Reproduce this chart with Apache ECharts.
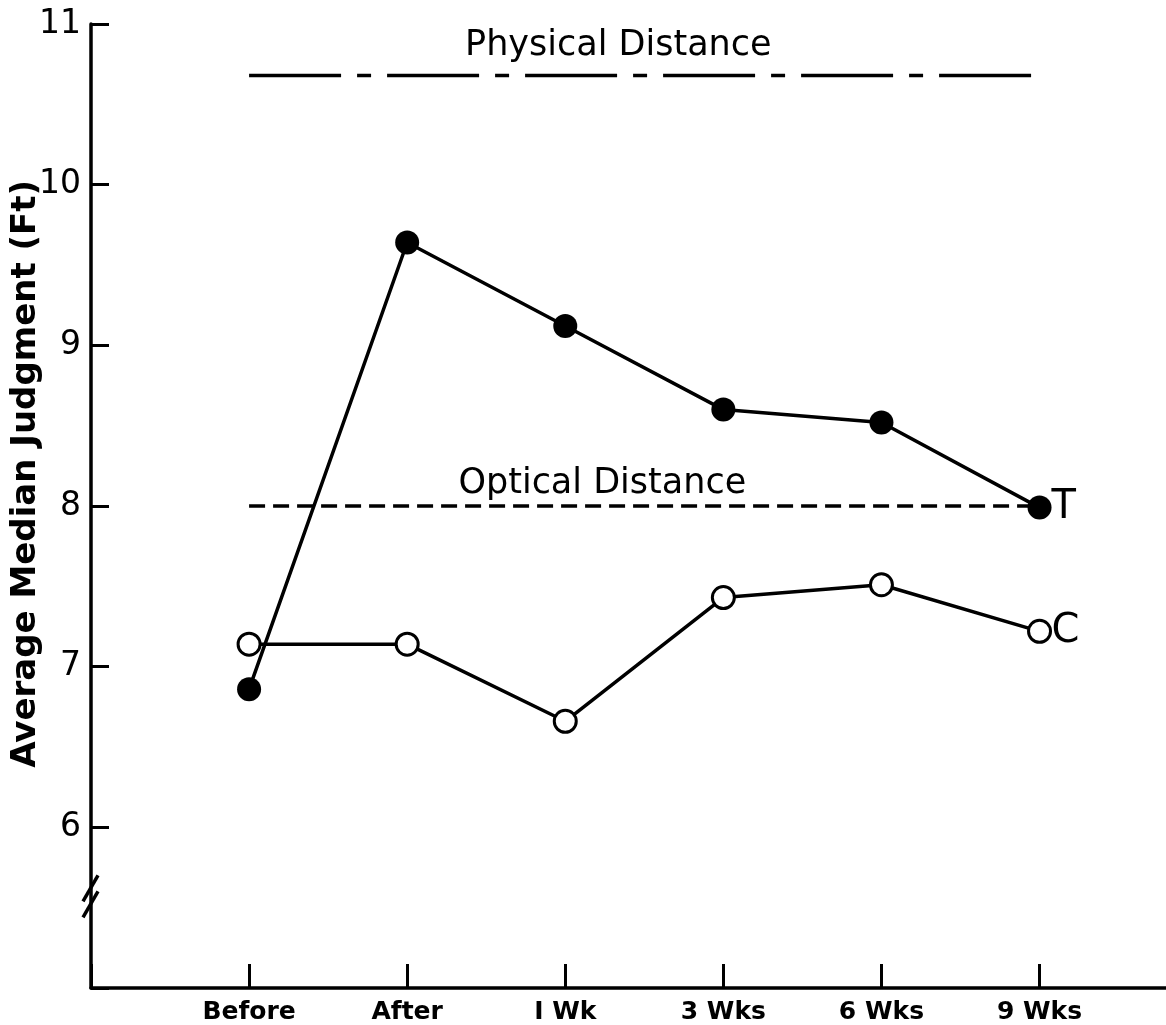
<!DOCTYPE html>
<html>
<head>
<meta charset="utf-8">
<script src="https://cdn.jsdelivr.net/npm/echarts@6/dist/echarts.min.js"></script>
<style>
html,body{margin:0;padding:0;background:#fff;}
#chart{width:1166px;height:1025px;}
</style>
</head>
<body>
<div id="chart"></div>
<script>
var categories = ['Before', 'After', 'I Wk', '3 Wks', '6 Wks', '9 Wks'];
var seriesT = [6.86, 9.64, 9.12, 8.60, 8.52, 7.99];
var seriesC = [7.14, 7.14, 6.66, 7.43, 7.51, 7.22];
var physicalDistance = 10.68;
var opticalDistance = 8.0;
var yTicks = [6, 7, 8, 9, 10, 11];
var yAxisTitle = 'Average Median Judgment (Ft)';

var FONT = 'DejaVu Sans';
function pairs(vals) { return vals.map(function (v, i) { return [i, v]; }); }
function flat(v) { return [[0, v], [categories.length - 1, v]]; }

var chart = echarts.init(document.getElementById('chart'), null, {renderer: 'canvas'});
var option = {
  backgroundColor: '#fff',
  animation: false,
  grid: {left: 91, right: 0, top: 24, bottom: 37, containLabel: false, outerBoundsMode: 'none'},
  xAxis: {
    type: 'value', min: -1, max: 5.8, interval: 1,
    axisLine: {show: true, onZero: false, lineStyle: {color: '#000', width: 3.5}},
    axisTick: {show: true, inside: true, length: 24, lineStyle: {color: '#000', width: 3}},
    splitLine: {show: false},
    axisLabel: {
      margin: 12, color: '#000', fontFamily: FONT, fontWeight: 'bold', fontSize: 25,
      showMinLabel: true, showMaxLabel: false,
      formatter: function (v) { var i = Math.round(v); return (i >= 0 && i < categories.length && Math.abs(v - i) < 1e-6) ? categories[i] : ''; }
    }
  },
  yAxis: {
    type: 'value', min: 5, max: 11, interval: 1,
    axisLine: {show: true, onZero: false, lineStyle: {color: '#000', width: 3.5}},
    axisTick: {show: true, inside: true, length: 18, lineStyle: {color: '#000', width: 3}},
    splitLine: {show: false},
    axisLabel: {
      margin: 10, color: '#000', fontFamily: FONT, fontSize: 33,
      formatter: function (v) { return yTicks.indexOf(Math.round(v)) >= 0 ? String(Math.round(v)) : ''; }
    }
  },
  series: [
    {
      name: 'Physical Distance', type: 'line', data: flat(physicalDistance), symbol: 'none',
      lineStyle: {color: '#000', width: 3.5, type: [92, 16, 14, 16]}, z: 1
    },
    {
      name: 'Optical Distance', type: 'line', data: flat(opticalDistance), symbol: 'none',
      lineStyle: {color: '#000', width: 3.5, type: [16, 8]}, z: 1
    },
    {
      name: 'T', type: 'line', data: pairs(seriesT), symbol: 'circle', symbolSize: 24,
      itemStyle: {color: '#000', borderColor: '#000', borderWidth: 0},
      lineStyle: {color: '#000', width: 3.5}, z: 3,
      endLabel: {show: true, formatter: 'T', color: '#000', fontFamily: FONT, fontSize: 40, distance: 12}
    },
    {
      name: 'C', type: 'line', data: pairs(seriesC), symbol: 'circle', symbolSize: 22,
      itemStyle: {color: '#fff', borderColor: '#000', borderWidth: 3},
      lineStyle: {color: '#000', width: 3.5}, z: 2,
      endLabel: {show: true, formatter: 'C', color: '#000', fontFamily: FONT, fontSize: 40, distance: 12}
    }
  ]
};
chart.setOption(option);

function px(x, y) { return chart.convertToPixel({gridIndex: 0}, [x, y]); }
var pPhys = px((categories.length - 1) / 2, physicalDistance);
var pOpt = px((categories.length - 1) / 2, opticalDistance);
var pMid = px(-1, 8.2);
var axisPt1 = px(-1, 5.62);
var axisPt2 = px(-1, 5.52);
chart.setOption({
  graphic: [
    {type: 'text', x: pMid[0] - 65, y: pMid[1], rotation: Math.PI / 2,
     style: {text: yAxisTitle, fill: '#000', font: 'bold 34px "DejaVu Sans"', textAlign: 'center', textVerticalAlign: 'middle'}},
    {type: 'text', x: pPhys[0] - 26, y: pPhys[1] - 12, style: {text: 'Physical Distance', fill: '#000', font: '35px "DejaVu Sans"', textAlign: 'center', textVerticalAlign: 'bottom'}},
    {type: 'text', x: pOpt[0] - 42, y: pOpt[1] - 5, style: {text: 'Optical Distance', fill: '#000', font: '35px "DejaVu Sans"', textAlign: 'center', textVerticalAlign: 'bottom'}},
    {type: 'line', shape: {x1: axisPt1[0] + 7, y1: axisPt1[1] - 13, x2: axisPt1[0] - 8, y2: axisPt1[1] + 13}, style: {stroke: '#000', lineWidth: 3.5}},
    {type: 'line', shape: {x1: axisPt2[0] + 7, y1: axisPt2[1] - 13, x2: axisPt2[0] - 8, y2: axisPt2[1] + 13}, style: {stroke: '#000', lineWidth: 3.5}}
  ]
});
</script>
</body>
</html>
